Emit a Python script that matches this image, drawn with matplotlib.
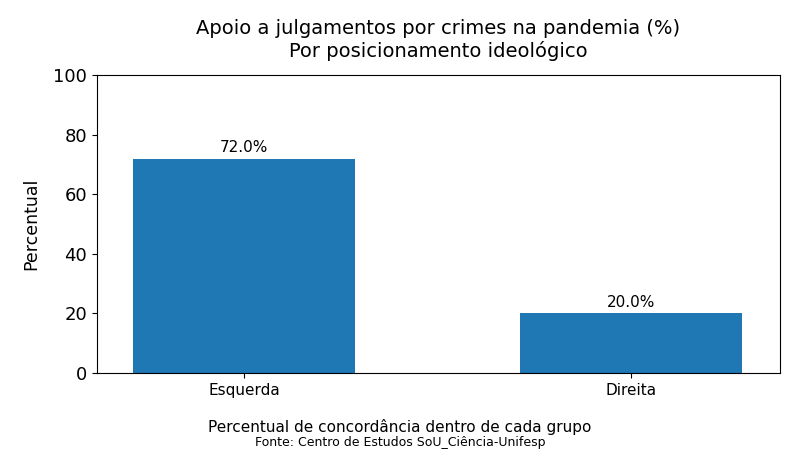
import numpy as np
import matplotlib.pyplot as plt

# dados
grupos = ['Esquerda', 'Direita']
apoio = [72.0, 20.0]

fig = plt.figure(figsize=(8, 4.5), dpi=100)
ax = fig.add_axes([0.121, 0.171, 0.854, 0.662])

x = np.arange(len(grupos))
barras = ax.bar(x, apoio, width=0.574, color='#1f77b4')

for b, v in zip(barras, apoio):
    ax.text(b.get_x() + b.get_width() / 2, v + 1.2, f'{v:.1f}%',
            ha='center', va='bottom', fontsize=11)

ax.set_xticks(x)
ax.set_xticklabels(grupos, fontsize=11)
ax.set_xlim(-0.38, 1.385)
ax.set_ylim(0, 100)
ax.tick_params(axis='y', labelsize=13)
ax.set_ylabel('Percentual', fontsize=12.5, labelpad=9)
ax.set_title('Apoio a julgamentos por crimes na pandemia (%)\nPor posicionamento ideológico',
             fontsize=14, pad=13)

fig.text(0.5, 0.051, 'Percentual de concordância dentro de cada grupo',
         ha='center', va='center', fontsize=11)
fig.text(0.5, 0.016, 'Fonte: Centro de Estudos SoU_Ciência-Unifesp',
         ha='center', va='center', fontsize=9)

fig.savefig('out.png', dpi=100)
